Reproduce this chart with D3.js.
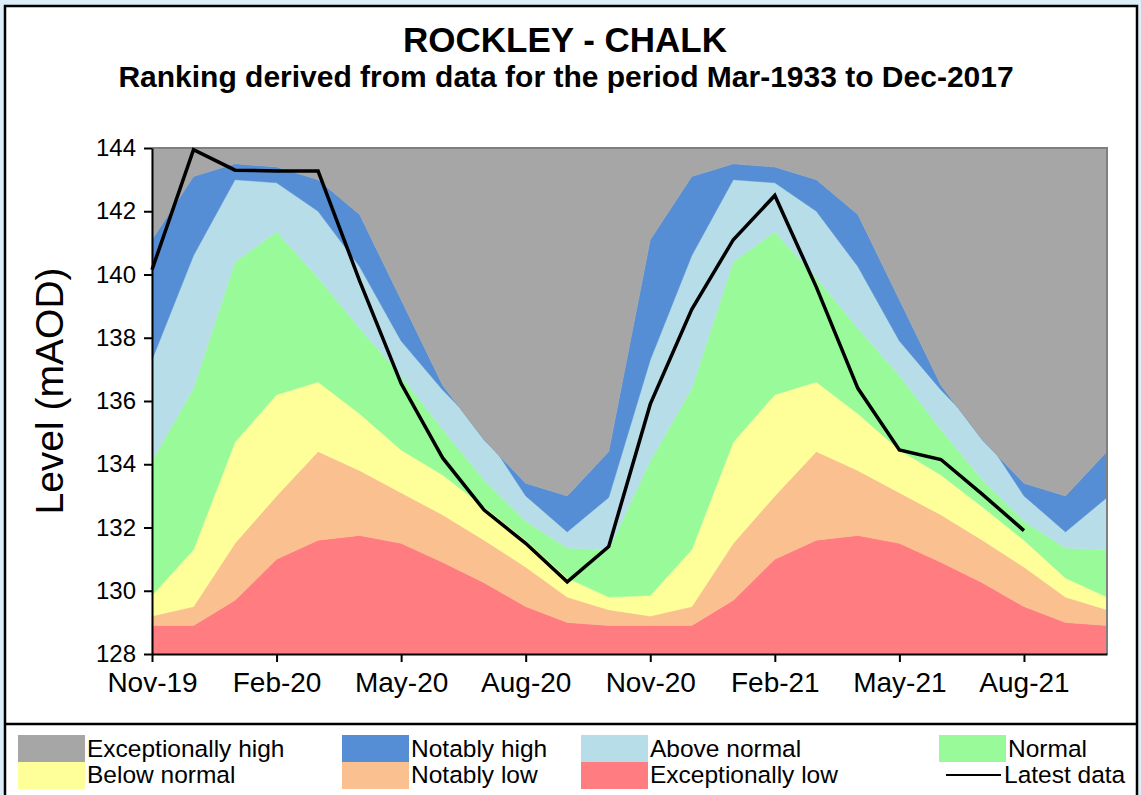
<!DOCTYPE html>
<html>
<head>
<meta charset="utf-8">
<script src="https://cdn.jsdelivr.net/npm/d3@7"></script>
<style>
  body { margin: 0; background: #dbeef9; }
  svg { display: block; font-family: Arial, "Liberation Sans", sans-serif; }
</style>
</head>
<body>
<div id="chart"></div>
<script>
// months on the x axis
var months = ['Nov-19', 'Dec-19', 'Jan-20', 'Feb-20', 'Mar-20', 'Apr-20', 'May-20', 'Jun-20', 'Jul-20', 'Aug-20', 'Sep-20', 'Oct-20',
    'Nov-20', 'Dec-20', 'Jan-21', 'Feb-21', 'Mar-21', 'Apr-21', 'May-21', 'Jun-21', 'Jul-21', 'Aug-21', 'Sep-21', 'Oct-21'];
var x_ticks = ['Nov-19', 'Feb-20', 'May-20', 'Aug-20', 'Nov-20', 'Feb-21', 'May-21', 'Aug-21'];
var y_ticks = [128, 130, 132, 134, 136, 138, 140, 142, 144];

// upper edge of each ranking band (mAOD)
var exc_low_top = [128.9, 128.9, 129.7, 131.0, 131.6, 131.75, 131.5, 130.9, 130.25, 129.5, 129.0, 128.9,
    128.9, 128.9, 129.7, 131.0, 131.6, 131.75, 131.5, 130.9, 130.25, 129.5, 129.0, 128.9];
var notably_low_top = [129.2, 129.5, 131.5, 133.0, 134.4, 133.8, 133.1, 132.4, 131.6, 130.75, 129.8, 129.4,
    129.2, 129.5, 131.5, 133.0, 134.4, 133.8, 133.1, 132.4, 131.6, 130.75, 129.8, 129.4];
var below_normal_top = [129.85, 131.3, 134.7, 136.2, 136.6, 135.6, 134.45, 133.66, 132.65, 131.6, 130.4, 129.8,
    129.85, 131.3, 134.7, 136.2, 136.6, 135.6, 134.45, 133.66, 132.65, 131.6, 130.4, 129.8];
var normal_top = [134.1, 136.4, 140.4, 141.35, 139.9, 138.3, 136.8, 135.1, 133.5, 132.2, 131.35, 131.3,
    134.1, 136.4, 140.4, 141.35, 139.9, 138.3, 136.8, 135.1, 133.5, 132.2, 131.35, 131.3];
var above_normal_top = [137.3, 140.6, 143.0, 142.9, 142.0, 140.25, 137.9, 136.35, 135.0, 133.0, 131.86, 132.95,
    137.3, 140.6, 143.0, 142.9, 142.0, 140.25, 137.9, 136.35, 135.0, 133.0, 131.86, 132.95];
var notably_high_top = [141.1, 143.1, 143.5, 143.4, 143.0, 141.9, 139.2, 136.5, 134.77, 133.4, 133.0, 134.4,
    141.1, 143.1, 143.5, 143.4, 143.0, 141.9, 139.2, 136.5, 134.77, 133.4, 133.0, 134.4];

// latest groundwater levels Nov-19 .. Aug-21
var latest = [140.15, 143.95, 143.3, 143.27, 143.27, 139.8, 136.55, 134.2, 132.55, 131.5, 130.28, 131.4,
    135.9, 138.9, 141.1, 142.5, 139.6, 136.4, 134.45, 134.15, 133.05, 131.9];

var chart_width = 1141;
var chart_height = 795;
var y_min = 128;
var y_max = 144;

var bands = [
    { name: 'Exceptionally low', color: '#ff7c80', lo: null, hi: exc_low_top },
    { name: 'Notably low', color: '#fac090', lo: exc_low_top, hi: notably_low_top },
    { name: 'Below normal', color: '#ffff99', lo: notably_low_top, hi: below_normal_top },
    { name: 'Normal', color: '#99fa99', lo: below_normal_top, hi: normal_top },
    { name: 'Above normal', color: '#b7dee8', lo: normal_top, hi: above_normal_top },
    { name: 'Notably high', color: '#558ed5', lo: above_normal_top, hi: notably_high_top },
    { name: 'Exceptionally high', color: '#a6a6a6', lo: notably_high_top, hi: null }
];

var svg = d3.select('#chart')
    .append('svg')
    .attr('width', chart_width)
    .attr('height', chart_height);

// white panels with black frame
svg.append('rect')
    .attr('x', 5).attr('y', 6)
    .attr('width', 1132).attr('height', 800)
    .attr('fill', '#fff')
    .attr('stroke', '#000')
    .attr('stroke-width', 2.5);
svg.append('line')
    .attr('x1', 5).attr('x2', 1137)
    .attr('y1', 724).attr('y2', 724)
    .attr('stroke', '#000')
    .attr('stroke-width', 2.5);

// titles
svg.append('text')
    .text('ROCKLEY - CHALK')
    .attr('x', 565).attr('y', 52)
    .attr('text-anchor', 'middle')
    .attr('font-size', 35)
    .attr('font-weight', 'bold');
svg.append('text')
    .text('Ranking derived from data for the period Mar-1933 to Dec-2017')
    .attr('x', 566).attr('y', 87)
    .attr('text-anchor', 'middle')
    .attr('font-size', 30)
    .attr('font-weight', 'bold');

// scales
var x_scale = d3.scaleLinear()
    .domain([0, months.length - 1])
    .range([152, 1107]);

var y_scale = d3.scaleLinear()
    .domain([y_min, y_max])
    .range([654, 148]);

// stacked ranking bands
var area = d3.area()
    .x(function (d, i) {
        return x_scale(i);
    })
    .y0(function (d) {
        return y_scale(d[0]);
    })
    .y1(function (d) {
        return y_scale(d[1]);
    });

svg.append('g')
    .selectAll('path')
    .data(bands)
    .enter()
    .append('path')
    .attr('d', function (b) {
        var pts = months.map(function (m, i) {
            return [b.lo ? b.lo[i] : y_min, b.hi ? b.hi[i] : y_max];
        });
        return area(pts);
    })
    .attr('fill', function (b) {
        return b.color;
    })
    .attr('stroke', function (b) {
        return b.color;
    })
    .attr('stroke-width', 0.5);

// plot frame (top and right)
svg.append('path')
    .attr('d', 'M' + x_scale(0) + ',' + y_scale(y_max) + 'H' + x_scale(months.length - 1) + 'V' + y_scale(y_min))
    .attr('fill', 'none')
    .attr('stroke', '#7f7f7f')
    .attr('stroke-width', 2);

// latest data line
var line = d3.line()
    .x(function (d, i) {
        return x_scale(i);
    })
    .y(function (d) {
        return y_scale(d);
    });

svg.append('path')
    .datum(latest)
    .attr('d', line)
    .attr('fill', 'none')
    .attr('stroke', '#000')
    .attr('stroke-width', 3.5)
    .attr('stroke-linejoin', 'miter');

// axes
var x_axis = d3.axisBottom(x_scale)
    .tickValues(x_ticks.map(function (t) {
        return months.indexOf(t);
    }))
    .tickFormat(function (i) {
        return months[i];
    })
    .tickSizeInner(8)
    .tickSizeOuter(0)
    .tickPadding(10);

var y_axis = d3.axisLeft(y_scale)
    .tickValues(y_ticks)
    .tickSizeInner(8)
    .tickSizeOuter(0)
    .tickPadding(8);

var gx = svg.append('g')
    .attr('transform', 'translate(0,' + y_scale(y_min) + ')')
    .call(x_axis);
var gy = svg.append('g')
    .attr('transform', 'translate(' + x_scale(0) + ',0)')
    .call(y_axis);

[gx, gy].forEach(function (g) {
    g.selectAll('path, line')
        .attr('stroke', '#000')
        .attr('stroke-width', 2);
    g.selectAll('text')
        .attr('fill', '#000')
        .attr('font-family', 'Arial, "Liberation Sans", sans-serif');
});
gx.selectAll('text').attr('font-size', 28);
gy.selectAll('text').attr('font-size', 24);

svg.append('text')
    .text('Level (mAOD)')
    .attr('transform', 'translate(63,391) rotate(-90)')
    .attr('text-anchor', 'middle')
    .attr('font-size', 39);

// legend
var legend_items = [
    { name: 'Exceptionally high', color: '#a6a6a6', x: 18, row: 0 },
    { name: 'Notably high', color: '#558ed5', x: 342, row: 0 },
    { name: 'Above normal', color: '#b7dee8', x: 581, row: 0 },
    { name: 'Normal', color: '#99fa99', x: 939, row: 0 },
    { name: 'Below normal', color: '#ffff99', x: 18, row: 1 },
    { name: 'Notably low', color: '#fac090', x: 342, row: 1 },
    { name: 'Exceptionally low', color: '#ff7c80', x: 581, row: 1 }
];

var legend = svg.append('g');
legend.selectAll('rect')
    .data(legend_items)
    .enter()
    .append('rect')
    .attr('x', function (d) { return d.x; })
    .attr('y', function (d) { return 735 + d.row * 27; })
    .attr('width', 67)
    .attr('height', 27)
    .attr('fill', function (d) { return d.color; });

legend.selectAll('text')
    .data(legend_items)
    .enter()
    .append('text')
    .text(function (d) { return d.name; })
    .attr('x', function (d) { return d.x + 69; })
    .attr('y', function (d) { return 757 + d.row * 26; })
    .attr('font-size', 24.5);

legend.append('line')
    .attr('x1', 946).attr('x2', 1001)
    .attr('y1', 775).attr('y2', 775)
    .attr('stroke', '#000')
    .attr('stroke-width', 2);
legend.append('text')
    .text('Latest data')
    .attr('x', 1004)
    .attr('y', 783)
    .attr('font-size', 24.5);
</script>
</body>
</html>
